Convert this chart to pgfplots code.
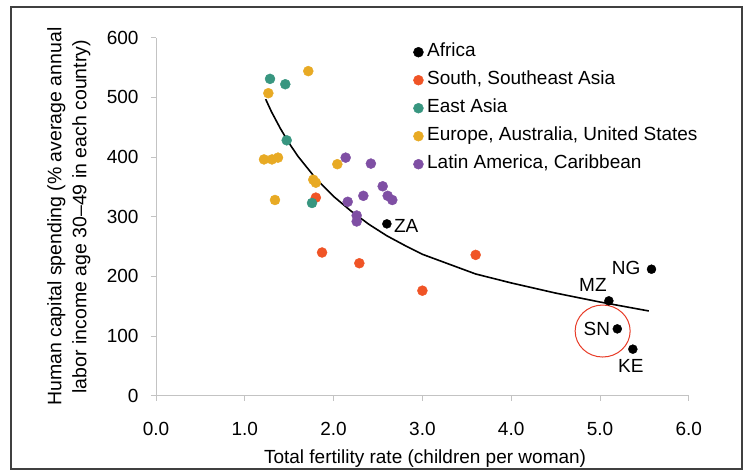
\documentclass[border=0pt]{standalone}
\usepackage{fontspec}
\setmainfont{Liberation Sans}
\usepackage{pgfplots}
\pgfplotsset{compat=1.18}
\definecolor{ssa}{RGB}{240,84,38}
\definecolor{eas}{RGB}{56,150,128}
\definecolor{eur}{RGB}{232,170,36}
\definecolor{lat}{RGB}{127,79,164}
\definecolor{axgray}{RGB}{195,195,195}
\definecolor{circ}{RGB}{232,60,40}
\begin{document}
\fontsize{19pt}{23pt}\selectfont
\begin{tikzpicture}
\useasboundingbox (-156pt,-78.3pt) rectangle (592pt,395.7pt);
\fill[white] (-156pt,-78.3pt) rectangle (592pt,395.7pt);
\begin{axis}[
  at={(0,0)}, anchor=south west,
  scale only axis, width=532.8pt, height=358pt,
  xmin=0, xmax=6, ymin=0, ymax=600,
  axis lines=left, axis line style={draw=axgray, line width=0.8pt, -},
  xtick={0,1,...,6}, ytick={0,100,...,600},
  tick align=outside, major tick length=5pt,
  tick style={draw=axgray, line width=0.8pt},
  /pgf/number format/assume math mode=true,
  xticklabel style={yshift=-15pt, /pgf/number format/fixed, /pgf/number format/fixed zerofill, /pgf/number format/precision=1},
  yticklabel style={xshift=-6pt},
  xlabel={Total fertility rate (children per woman)},
  xlabel style={at={(axis description cs:0.505,-0.1888)}, anchor=base},
  ylabel={Human capital spending (\% average annual\\labor income age 30--49 in each country)},
  ylabel style={at={(axis description cs:-0.1107,0.5)}, anchor=south, align=center, font=\fontsize{19.5pt}{25pt}\selectfont},
  clip=false,
  legend style={at={(axis cs:2.897,591.6)}, anchor=north west, draw=none, fill=none,
    inner sep=0pt, outer sep=0pt, row sep=9pt, column sep=3.5pt,
    nodes={inner sep=0pt, text height=14pt, text depth=5pt}},
  legend cell align=left,
  legend image code/.code={\fill[#1] (0pt,0pt) circle[radius=5pt];},
]
\addplot[black, line width=1.6pt, forget plot] coordinates {
(1.235,497) (1.3,476) (1.4,448) (1.5,423) (1.6,401) (1.8,364) (2.0,334)
(2.2,309) (2.4,287) (2.6,268) (2.8,252) (3.0,237) (3.6,204) (4.0,189)
(4.5,172) (5.0,157) (5.55,142)};
\addplot[only marks, mark=*, mark size=4.5pt, draw=black, fill=black] coordinates {
(2.60,288) (5.58,212) (5.10,159) (5.195,112) (5.37,78)};
\addlegendentry{Africa}
\addplot[only marks, mark=*, mark size=5pt, draw=ssa, fill=ssa] coordinates {
(1.80,332) (1.87,240) (2.29,222) (3.00,176) (3.60,236)};
\addlegendentry{South, Southeast Asia}
\addplot[only marks, mark=*, mark size=5pt, draw=eas, fill=eas] coordinates {
(1.284,531) (1.456,522) (1.472,428) (1.757,323)};
\addlegendentry{East Asia}
\addplot[only marks, mark=*, mark size=5pt, draw=eur, fill=eur] coordinates {
(1.715,544) (1.265,507) (1.216,396) (1.306,396) (1.374,399) (2.042,388)
(1.771,362) (1.80,357) (1.34,328)};
\addlegendentry{Europe, Australia, United States}
\addplot[only marks, mark=*, mark size=5pt, draw=lat, fill=lat] coordinates {
(2.136,399) (2.42,389) (2.553,351) (2.609,335) (2.661,328) (2.335,335)
(2.159,325) (2.26,302) (2.26,292)};
\addlegendentry{Latin America, Caribbean}
\node[anchor=west, inner sep=0pt, xshift=7pt, yshift=-2pt] at (axis cs:2.60,288) {ZA};
\node[anchor=east, inner sep=0pt, xshift=-11pt, yshift=1pt] at (axis cs:5.58,212) {NG};
\node[anchor=base east, inner sep=0pt, xshift=-2pt, yshift=9pt] at (axis cs:5.10,159) {MZ};
\node[anchor=east, inner sep=0pt, xshift=-7pt] at (axis cs:5.195,112) {SN};
\node[anchor=north, inner sep=0pt, xshift=-2pt, yshift=-10pt] at (axis cs:5.37,78) {KE};
\draw[circ, line width=1pt] (axis cs:5.03,108.4) ellipse [x radius=27.5pt, y radius=26pt];
\end{axis}
\draw[black!75, line width=1.2pt] (-145pt,-73.3pt) rectangle (586pt,388.7pt);
\end{tikzpicture}
\end{document}
